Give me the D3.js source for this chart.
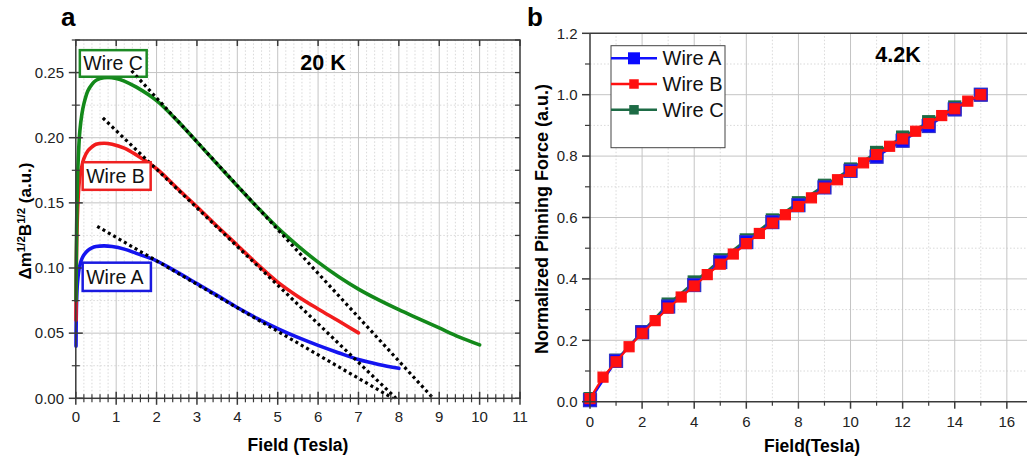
<!DOCTYPE html>
<html><head><meta charset="utf-8">
<script src="https://cdn.jsdelivr.net/npm/d3@7"></script>
<style>body{margin:0;background:#fff}svg{display:block;font-family:"Liberation Sans",Arial,sans-serif}</style>
</head><body><svg id="c" width="1027" height="462"></svg>
<script>
// ---------- Panel a (20 K) data ----------
const fieldA20K = [0.005,0.01,0.02,0.04,0.07,0.1,0.15,0.2,0.3,0.4,0.5,0.7,0.9,1.2,1.5,2.0,2.5,3,3.5,4,4.5,5,5.5,6,6.5,7,7.5,8];
const wireA20K  = [0.04,0.06,0.075,0.088,0.097,0.102,0.107,0.110,0.1135,0.1155,0.1165,0.117,0.1165,0.1145,0.1112,0.1055,0.097,0.088,0.079,0.0697,0.0612,0.0535,0.0467,0.0406,0.035,0.0298,0.026,0.023];
const fieldB20K = [0.005,0.01,0.02,0.04,0.07,0.1,0.15,0.2,0.3,0.4,0.5,0.7,0.9,1.2,1.5,2.0,2.5,3,3.5,4,4.5,5,5.5,6,6.5,7];
const wireB20K  = [0.06,0.09,0.115,0.14,0.16,0.17,0.178,0.184,0.19,0.193,0.195,0.1958,0.195,0.192,0.1868,0.1762,0.1615,0.147,0.132,0.1175,0.1028,0.0892,0.0782,0.0686,0.0595,0.0502];
const fieldC20K = [0.005,0.01,0.02,0.04,0.07,0.1,0.15,0.2,0.3,0.4,0.5,0.6,0.8,1.0,1.2,1.5,2.0,2.5,3.0,3.5,4.0,4.5,5.0,5.5,6.0,6.5,7.0,7.5,8.0,8.5,9.0,9.5,10.0];
const wireC20K  = [0.075,0.1,0.13,0.165,0.19,0.205,0.218,0.226,0.236,0.241,0.244,0.2455,0.2463,0.2455,0.2435,0.2388,0.2285,0.2135,0.1968,0.1798,0.163,0.1465,0.1308,0.117,0.1045,0.0935,0.0838,0.0755,0.068,0.061,0.054,0.047,0.041];
// dotted tangent lines (two end points each)
const tangentAX = [0.53, 7.85], tangentAY = [0.132, 0.0];
const tangentBX = [0.67, 7.93], tangentBY = [0.2152, 0.0];
const tangentCX = [1.38, 8.85], tangentCY = [0.2514, 0.0];
const xTicksA = [0,1,2,3,4,5,6,7,8,9,10,11];
const yTicksA = [0,0.05,0.10,0.15,0.20,0.25];
const seriesNames = ["Wire A","Wire B","Wire C"];

// ---------- Panel b (4.2 K) data ----------
const fieldB42 = [0,0.5,1,1.5,2,2.5,3,3.5,4,4.5,5,5.5,6,6.5,7,7.5,8,8.5,9,9.5,10,10.5,11,11.5,12,12.5,13,13.5,14,14.5,15];
const wireB42  = [0.01,0.08,0.13,0.179,0.223,0.264,0.305,0.341,0.377,0.414,0.448,0.481,0.515,0.548,0.582,0.609,0.636,0.664,0.696,0.723,0.750,0.778,0.805,0.832,0.856,0.881,0.906,0.932,0.954,0.979,1.0];
const fieldAC42 = [0,1,2,3,4,5,6,7,8,9,10,11,12,13,14,15];
const wireA42  = [0.005,0.133,0.226,0.31,0.38,0.455,0.52,0.585,0.64,0.698,0.752,0.798,0.85,0.898,0.952,1.0];
const wireC42  = [0.01,0.135,0.228,0.318,0.39,0.462,0.527,0.592,0.648,0.705,0.758,0.812,0.862,0.912,0.96,1.0];
const xTicksB = [0,2,4,6,8,10,12,14,16];
const yTicksB = [0,0.2,0.4,0.6,0.8,1.0,1.2];

const svg = d3.select("#c");
const AX = "#3a3a3a";
const GRID = "#cfcfcf";

// ================= Panel a =================
const xa = d3.scaleLinear().domain([0,11]).range([75.8,520]);
const ya = d3.scaleLinear().domain([0,0.275]).range([398.3,40]);
const ga = svg.append("g");

const xMinorA = d3.range(0,11.001,0.2).filter(v=>Math.abs(v-Math.round(v))>1e-6);
const yMinorA = d3.range(0,0.2751,0.025).filter(v=>Math.abs(v/0.05-Math.round(v/0.05))>1e-6);
ga.selectAll(".gxm").data(xMinorA).join("line").attr("x1",d=>xa(d)).attr("x2",d=>xa(d)).attr("y1",ya(0)).attr("y2",ya(0.275))
  .attr("stroke",GRID).attr("stroke-width",0.8).attr("stroke-dasharray","1.5,2");
ga.selectAll(".gym").data(yMinorA).join("line").attr("y1",d=>ya(d)).attr("y2",d=>ya(d)).attr("x1",xa(0)).attr("x2",xa(11))
  .attr("stroke",GRID).attr("stroke-width",0.8).attr("stroke-dasharray","1.5,2");
ga.selectAll(".gx").data(xTicksA.slice(1,-1)).join("line").attr("x1",d=>xa(d)).attr("x2",d=>xa(d)).attr("y1",ya(0)).attr("y2",ya(0.275))
  .attr("stroke","#c4c4c4").attr("stroke-width",1);
ga.selectAll(".gy").data(yTicksA.slice(1)).join("line").attr("y1",d=>ya(d)).attr("y2",d=>ya(d)).attr("x1",xa(0)).attr("x2",xa(11))
  .attr("stroke","#c4c4c4").attr("stroke-width",1);

const lineA = d3.line().x(d=>xa(d[0])).y(d=>ya(d[1])).curve(d3.curveCatmullRom.alpha(0.5));
const curvesA = [
  {x:fieldA20K, y:wireA20K, c:"#1414f0"},
  {x:fieldB20K, y:wireB20K, c:"#f21c1c"},
  {x:fieldC20K, y:wireC20K, c:"#13891a"}
];
curvesA.forEach(s=>{
  ga.append("path").datum(d3.zip(s.x,s.y)).attr("d",lineA).attr("fill","none").attr("stroke",s.c).attr("stroke-width",3.6).attr("stroke-linecap","round");
});
const tangentLine = d3.line().x(d=>xa(d[0])).y(d=>ya(d[1]));
[[tangentAX,tangentAY],[tangentBX,tangentBY],[tangentCX,tangentCY]].forEach(([tx,ty])=>{
  ga.append("path").datum(d3.zip(tx,ty)).attr("d",tangentLine)
    .attr("fill","none").attr("stroke","#000").attr("stroke-width",3.2).attr("stroke-dasharray","3,3.2");
});

ga.append("rect").attr("x",xa(0)).attr("y",ya(0.275)).attr("width",xa(11)-xa(0)).attr("height",ya(0)-ya(0.275))
  .attr("fill","none").attr("stroke",AX).attr("stroke-width",1.5);
ga.selectAll(".tbx").data(xTicksA).join("line").attr("x1",d=>xa(d)).attr("x2",d=>xa(d)).attr("y1",ya(0)-6.5).attr("y2",ya(0)+6.5).attr("stroke",AX).attr("stroke-width",1.5);
ga.selectAll(".tbxm").data(xMinorA).join("line").attr("x1",d=>xa(d)).attr("x2",d=>xa(d)).attr("y1",ya(0)-4).attr("y2",ya(0)+4).attr("stroke",AX).attr("stroke-width",1.2);
ga.selectAll(".tly").data(yTicksA).join("line").attr("y1",d=>ya(d)).attr("y2",d=>ya(d)).attr("x1",xa(0)-7).attr("x2",xa(0)+7).attr("stroke",AX).attr("stroke-width",1.5);
ga.selectAll(".tlym").data(yMinorA).join("line").attr("y1",d=>ya(d)).attr("y2",d=>ya(d)).attr("x1",xa(0)-4).attr("x2",xa(0)+4).attr("stroke",AX).attr("stroke-width",1.2);
ga.selectAll(".ttx").data(xTicksA).join("line").attr("x1",d=>xa(d)).attr("x2",d=>xa(d)).attr("y1",ya(0.275)).attr("y2",ya(0.275)+6).attr("stroke",AX).attr("stroke-width",1.5);
ga.selectAll(".try").data(yTicksA.concat(yMinorA)).join("line").attr("y1",d=>ya(d)).attr("y2",d=>ya(d)).attr("x1",xa(11)-5).attr("x2",xa(11)).attr("stroke",AX).attr("stroke-width",1.3);
ga.selectAll(".lx").data(xTicksA).join("text").attr("x",d=>xa(d)).attr("y",422).attr("text-anchor","middle")
  .attr("font-size",15).attr("fill","#222").text(d=>d);
ga.selectAll(".ly").data(yTicksA).join("text").attr("x",64).attr("y",d=>ya(d)+5.3).attr("text-anchor","end")
  .attr("font-size",15).attr("fill","#222").text(d=>d3.format(".2f")(d));

const boxes = [
  {name:seriesNames[2], x0:0.10, x1:1.755, y0:0.2672, y1:0.2468, c:"#1c8a24"},
  {name:seriesNames[1], x0:0.17, x1:1.854, y0:0.1812, y1:0.1600, c:"#ee2222"},
  {name:seriesNames[0], x0:0.17, x1:1.86,  y0:0.1041, y1:0.0824, c:"#1a1ae0"}
];
boxes.forEach(b=>{
  ga.append("rect").attr("x",xa(b.x0)).attr("y",ya(b.y0)).attr("width",xa(b.x1)-xa(b.x0)).attr("height",ya(b.y1)-ya(b.y0))
    .attr("fill","#fff").attr("stroke",b.c).attr("stroke-width",2.5);
  ga.append("text").attr("x",xa(b.x0)+3.5).attr("y",ya(b.y1)-6.5).attr("font-size",19.5).attr("fill","#111").text(b.name);
});
svg.append("clipPath").attr("id","clipC").append("rect").attr("x",xa(1.3)).attr("y",ya(0.2672)).attr("width",20).attr("height",ya(0.2468)-ya(0.2672));
ga.append("path").datum(d3.zip(tangentCX,tangentCY)).attr("d",tangentLine)
  .attr("fill","none").attr("stroke","#000").attr("stroke-width",3.2).attr("stroke-dasharray","3,3.2")
  .attr("clip-path","url(#clipC)");

ga.append("text").attr("x",323).attr("y",70).attr("text-anchor","middle").attr("font-size",21.5).attr("font-weight","bold").text("20 K");
ga.append("text").attr("x",61).attr("y",26).attr("font-size",26).attr("font-weight","bold").text("a");
ga.append("text").attr("x",298).attr("y",451).attr("text-anchor","middle").attr("font-size",17.5).attr("font-weight","bold").text("Field (Tesla)");
const yt = ga.append("text").attr("transform","translate(31,221) rotate(-90)").attr("text-anchor","middle").attr("font-size",17).attr("font-weight","bold");
yt.append("tspan").text("\u0394m");
yt.append("tspan").attr("dy",-6).attr("font-size",11.5).text("1/2");
yt.append("tspan").attr("dy",6).text("B");
yt.append("tspan").attr("dy",-6).attr("font-size",11.5).text("1/2");
yt.append("tspan").attr("dy",6).text(" (a.u.)");

// ================= Panel b =================
const xb = d3.scaleLinear().domain([0,17]).range([590,1032.9]);
const yb = d3.scaleLinear().domain([0,1.2]).range([401.7,33.3]);
const gb = svg.append("g");
const xMinorB = d3.range(1,17,2);
const yMinorB = d3.range(0.1,1.2,0.2);
gb.selectAll(".gxm").data(xMinorB).join("line").attr("x1",d=>xb(d)).attr("x2",d=>xb(d)).attr("y1",yb(0)).attr("y2",yb(1.2))
  .attr("stroke",GRID).attr("stroke-width",0.8).attr("stroke-dasharray","1.5,2");
gb.selectAll(".gym").data(yMinorB).join("line").attr("y1",d=>yb(d)).attr("y2",d=>yb(d)).attr("x1",xb(0)).attr("x2",1027)
  .attr("stroke",GRID).attr("stroke-width",0.8).attr("stroke-dasharray","1.5,2");
gb.selectAll(".gx").data(xTicksB.slice(1)).join("line").attr("x1",d=>xb(d)).attr("x2",d=>xb(d)).attr("y1",yb(0)).attr("y2",yb(1.2))
  .attr("stroke","#c4c4c4").attr("stroke-width",1);
gb.selectAll(".gy").data(yTicksB.slice(1,-1)).join("line").attr("y1",d=>yb(d)).attr("y2",d=>yb(d)).attr("x1",xb(0)).attr("x2",1027)
  .attr("stroke","#c4c4c4").attr("stroke-width",1);

const lineB = d3.line().x(d=>xb(d[0])).y(d=>yb(d[1]));
const seriesB = [
  {x:fieldAC42, y:wireC42, c:"#1d6b45", fill:"#1d6b45", stroke:"#1d6b45", s:12},
  {x:fieldAC42, y:wireA42, c:"#1010ff", fill:"#0a0aff", stroke:"#3030c8", s:13},
  {x:fieldB42,  y:wireB42, c:"#ff1010", fill:"#ff1010", stroke:"#ff1010", s:10}
];
seriesB.forEach(s=>{
  const pts = d3.zip(s.x,s.y);
  gb.append("path").datum(pts).attr("d",lineB).attr("fill","none").attr("stroke",s.c).attr("stroke-width",2.2);
  gb.selectAll(null).data(pts).join("rect").attr("x",d=>xb(d[0])-s.s/2).attr("y",d=>yb(d[1])-s.s/2)
    .attr("width",s.s).attr("height",s.s).attr("fill",s.fill).attr("stroke",s.stroke).attr("stroke-width",1.2);
});

gb.append("line").attr("x1",xb(0)).attr("x2",1027).attr("y1",yb(0)).attr("y2",yb(0)).attr("stroke",AX).attr("stroke-width",1.5);
gb.append("line").attr("x1",xb(0)).attr("x2",1027).attr("y1",yb(1.2)).attr("y2",yb(1.2)).attr("stroke",AX).attr("stroke-width",1.5);
gb.append("line").attr("x1",xb(0)).attr("x2",xb(0)).attr("y1",yb(0)).attr("y2",yb(1.2)).attr("stroke",AX).attr("stroke-width",1.5);
gb.selectAll(".tx").data(xTicksB).join("line").attr("x1",d=>xb(d)).attr("x2",d=>xb(d)).attr("y1",yb(0)).attr("y2",yb(0)+7).attr("stroke",AX).attr("stroke-width",1.5);
gb.selectAll(".txm").data(xMinorB).join("line").attr("x1",d=>xb(d)).attr("x2",d=>xb(d)).attr("y1",yb(0)).attr("y2",yb(0)+4).attr("stroke",AX).attr("stroke-width",1.2);
gb.selectAll(".ty").data(yTicksB).join("line").attr("y1",d=>yb(d)).attr("y2",d=>yb(d)).attr("x1",xb(0)-8).attr("x2",xb(0)).attr("stroke",AX).attr("stroke-width",1.5);
gb.selectAll(".tym").data(yMinorB).join("line").attr("y1",d=>yb(d)).attr("y2",d=>yb(d)).attr("x1",xb(0)-5).attr("x2",xb(0)).attr("stroke",AX).attr("stroke-width",1.2);
gb.selectAll(".lx").data(xTicksB).join("text").attr("x",d=>xb(d)).attr("y",427).attr("text-anchor","middle")
  .attr("font-size",15).attr("fill","#222").text(d=>d);
gb.selectAll(".ly").data(yTicksB).join("text").attr("x",577.5).attr("y",d=>yb(d)+5.3).attr("text-anchor","end")
  .attr("font-size",15).attr("fill","#222").text(d=>d3.format(".1f")(d));

gb.append("rect").attr("x",611).attr("y",45.7).attr("width",114).attr("height",102).attr("fill","#fff").attr("stroke","#444").attr("stroke-width",1);
const legendRows = [
  {name:seriesNames[0], c:"#1010ff", fill:"#0a0aff", s:12, cy:58.3},
  {name:seriesNames[1], c:"#ff1010", fill:"#ff1010", s:9.5, cy:84},
  {name:seriesNames[2], c:"#1d6b45", fill:"#1d6b45", s:9.5, cy:109.8}
];
legendRows.forEach(r=>{
  gb.append("line").attr("x1",611).attr("x2",657).attr("y1",r.cy).attr("y2",r.cy).attr("stroke",r.c).attr("stroke-width",2.6);
  gb.append("rect").attr("x",634-r.s/2).attr("y",r.cy-r.s/2).attr("width",r.s).attr("height",r.s).attr("fill",r.fill);
  gb.append("text").attr("x",662.5).attr("y",r.cy+7).attr("font-size",20).attr("fill","#111").text(r.name);
});

gb.append("text").attr("x",898).attr("y",62).attr("text-anchor","middle").attr("font-size",21.5).attr("font-weight","bold").text("4.2K");
gb.append("text").attr("x",527).attr("y",26).attr("font-size",26).attr("font-weight","bold").text("b");
gb.append("text").attr("x",812).attr("y",452).attr("text-anchor","middle").attr("font-size",17.5).attr("font-weight","bold").text("Field(Tesla)");
gb.append("text").attr("transform","translate(548,219) rotate(-90)").attr("text-anchor","middle").attr("font-size",18).attr("font-weight","bold").text("Normalized Pinning Force (a.u.)");
</script></body></html>
